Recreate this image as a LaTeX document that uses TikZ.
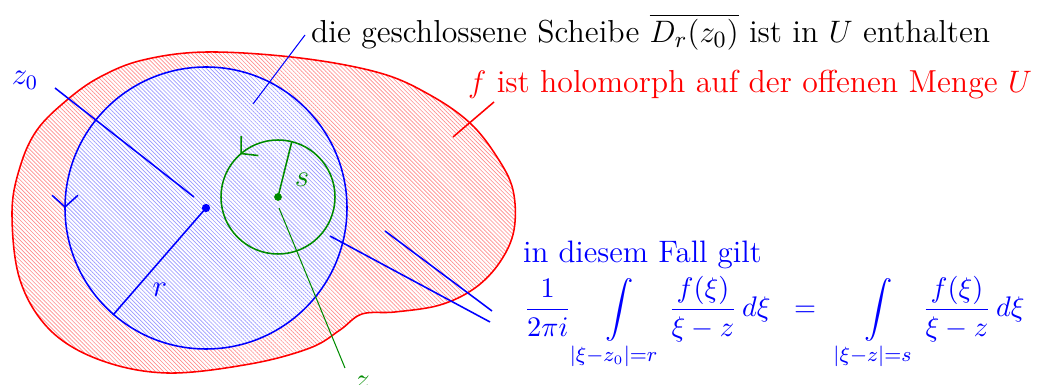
\documentclass[tikz,border=0pt]{standalone}
\usepackage{amsmath}
\usetikzlibrary{patterns.meta,decorations.markings,arrows.meta}
\begin{document}
\begin{tikzpicture}[x=0.0136cm, y=0.0136cm,
    redhatch/.style={pattern={Lines[angle=-45,distance=1.1pt,line width=0.25pt]}, pattern color=red!45},
    bluehatch/.style={pattern={Lines[angle=-45,distance=1.1pt,line width=0.25pt]}, pattern color=blue!40},
    circarrow/.style={postaction={decorate}, decoration={markings,
        mark=at position #1 with {\arrow{Straight Barb[length=4.5pt,width=10pt]}}}},
    pinline/.style={semithick},
    bigtext/.style={font=\fontsize{12.3}{14}\selectfont},
    labeltext/.style={font=\fontsize{11.5}{13}\selectfont},
    bluetext/.style={blue, font=\fontsize{12}{14}\selectfont}]
    \useasboundingbox (0,0) rectangle (1037,385);

    % Gebiet U
    \path[redhatch] plot[smooth cycle, tension=0.6] coordinates {
        (207,333) (300,327) (380,312) (430,290) (470,262) (497,228) (513,195)
        (514,155) (500,123) (475,97) (440,80) (395,73) (362,71) (340,55)
        (310,37) (250,21) (167,12) (100,25) (50,55) (20,105) (12,172)
        (20,218) (37,255) (67,285) (100,308) (143,325)};
    \draw[red, semithick] plot[smooth cycle, tension=0.6] coordinates {
        (207,333) (300,327) (380,312) (430,290) (470,262) (497,228) (513,195)
        (514,155) (500,123) (475,97) (440,80) (395,73) (362,71) (340,55)
        (310,37) (250,21) (167,12) (100,25) (50,55) (20,105) (12,172)
        (20,218) (37,255) (67,285) (100,308) (143,325)};

    \coordinate (O) at (206,177);
    \coordinate (Z) at (278,188);

    % Scheibe
    \fill[white] (O) circle (141);
    \fill[bluehatch] (O) circle (141);
    \draw[blue, semithick, circarrow=0.5] (O) circle (141);
    \draw[green!55!black, semithick, circarrow=0.365] (Z) circle (57);

    % Radien
    \draw[blue, semithick] (O) -- (113,70) coordinate (rend);
    \draw[green!55!black, semithick] (Z) -- ++(76:57) coordinate (send);
    \fill[blue] (O) circle (1.6pt);
    \fill[green!55!black] (Z) circle (1.5pt);
    \node[blue, labeltext] (rlabel) at (160,95) {$r$};
    \node[green!55!black, labeltext] (slabel) at (302,205) {$s$};

    % Beschriftungen
    \node[blue, labeltext] (zolabel) at (25,305) {$z_0$};
    \coordinate (zoa) at (55,297);
    \coordinate (zob) at (194,188);
    \draw[blue, pinline] (zoa) -- (zob);

    \node[green!55!black, labeltext] (zlabel) at (362,2) {$z$};
    \coordinate (za) at (279,177);
    \coordinate (zb) at (345,17);
    \draw[green!55!black] (za) -- (zb);

    \node[anchor=west, bigtext] (disk) at (302,353) {die geschlossene Scheibe $\overline{D_r(z_0)}$ ist in $U$ enthalten};
    \coordinate (da) at (305,350);
    \coordinate (db) at (253,281);
    \draw[blue] (da) -- (db);

    \node[red, anchor=west, bigtext] (holo) at (459,300) {$f$ ist holomorph auf der offenen Menge $U$};
    \coordinate (ha) at (494,283);
    \coordinate (hb) at (453,248);
    \draw[red, pinline] (ha) -- (hb);

    \node[bluetext, anchor=west] (fall) at (514,130) {in diesem Fall gilt};
    \node[blue, anchor=west, font=\fontsize{11}{13}\selectfont] (formel) at (515,62) {$\displaystyle
        \frac{1}{2\pi i}\int\limits_{|\xi-z_0|=r}\frac{f(\xi)}{\xi-z}\,d\xi
        \;\;=\;\; \int\limits_{|\xi-z|=s}\frac{f(\xi)}{\xi-z}\,d\xi$};
    \coordinate (fa) at (490,63);
    \coordinate (fb) at (330,149);
    \coordinate (fc) at (492,74);
    \coordinate (fd) at (385,154);
    \draw[blue, pinline] (fa) -- (fb);
    \draw[blue, pinline] (fc) -- (fd);
\end{tikzpicture}
\end{document}
